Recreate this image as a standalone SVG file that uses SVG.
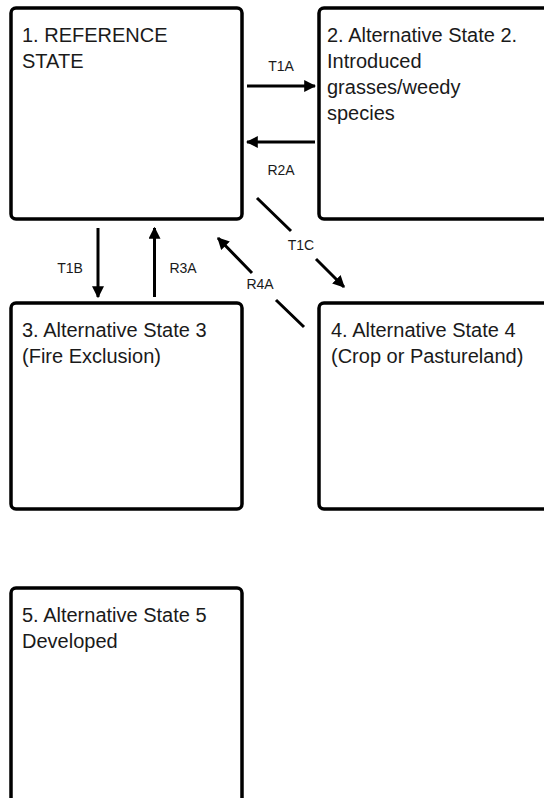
<svg xmlns="http://www.w3.org/2000/svg" width="544" height="798" viewBox="0 0 544 798">
<style>
.box{fill:#fff;stroke:#000;stroke-width:3.5}
.t{font-family:"Liberation Sans",Arial,sans-serif;font-size:20px;fill:#1a1a1a}
.l{font-family:"Liberation Sans",Arial,sans-serif;font-size:14px;fill:#1a1a1a;text-anchor:middle}
.c{fill:none;stroke:#000;stroke-width:3}
</style>
<defs>
<marker id="ah" viewBox="0 0 10 10" refX="9" refY="5" markerWidth="4" markerHeight="4" orient="auto" markerUnits="strokeWidth">
<path d="M0,0 L10,5 L0,10 z" fill="#000"/>
</marker>
</defs>
<rect width="544" height="798" fill="#fff"/>
<g id="node1">
<rect class="box" x="11" y="8" width="231" height="211" rx="5"/>
<text class="t" x="22" y="42">1. REFERENCE</text>
<text class="t" x="22" y="68">STATE</text>
</g>
<g id="node2">
<rect class="box" x="319" y="8" width="240" height="211" rx="5"/>
<text class="t" x="327" y="42">2. Alternative State 2.</text>
<text class="t" x="327" y="68">Introduced</text>
<text class="t" x="327" y="94">grasses/weedy</text>
<text class="t" x="327" y="120">species</text>
</g>
<g id="node3">
<rect class="box" x="11" y="303" width="231" height="206" rx="5"/>
<text class="t" x="22" y="337">3. Alternative State 3</text>
<text class="t" x="22" y="363">(Fire Exclusion)</text>
</g>
<g id="node4">
<rect class="box" x="319" y="303" width="240" height="206" rx="5"/>
<text class="t" x="331" y="337">4. Alternative State 4</text>
<text class="t" x="331" y="363">(Crop or Pastureland)</text>
</g>
<g id="node5">
<rect class="box" x="11" y="588" width="231" height="230" rx="5"/>
<text class="t" x="22" y="622">5. Alternative State 5</text>
<text class="t" x="22" y="648">Developed</text>
</g>
<g id="connectors">
<path class="c" d="M247,86 L315,86" marker-end="url(#ah)"/>
<text class="l" x="281" y="71">T1A</text>
<path class="c" d="M315,142 L247,142" marker-end="url(#ah)"/>
<text class="l" x="281" y="175">R2A</text>
<path class="c" d="M98,228 L98,297" marker-end="url(#ah)"/>
<text class="l" x="70" y="273">T1B</text>
<path class="c" d="M154.5,297 L154.5,228" marker-end="url(#ah)"/>
<text class="l" x="183" y="273">R3A</text>
<path class="c" d="M257,198 L291,231 M316,259 L344,287" marker-end="url(#ah)"/>
<text class="l" x="301" y="250">T1C</text>
<path class="c" d="M304,327 L276,300 M252,273 L218,238" marker-end="url(#ah)"/>
<text class="l" x="260" y="289">R4A</text>
</g>
</svg>
